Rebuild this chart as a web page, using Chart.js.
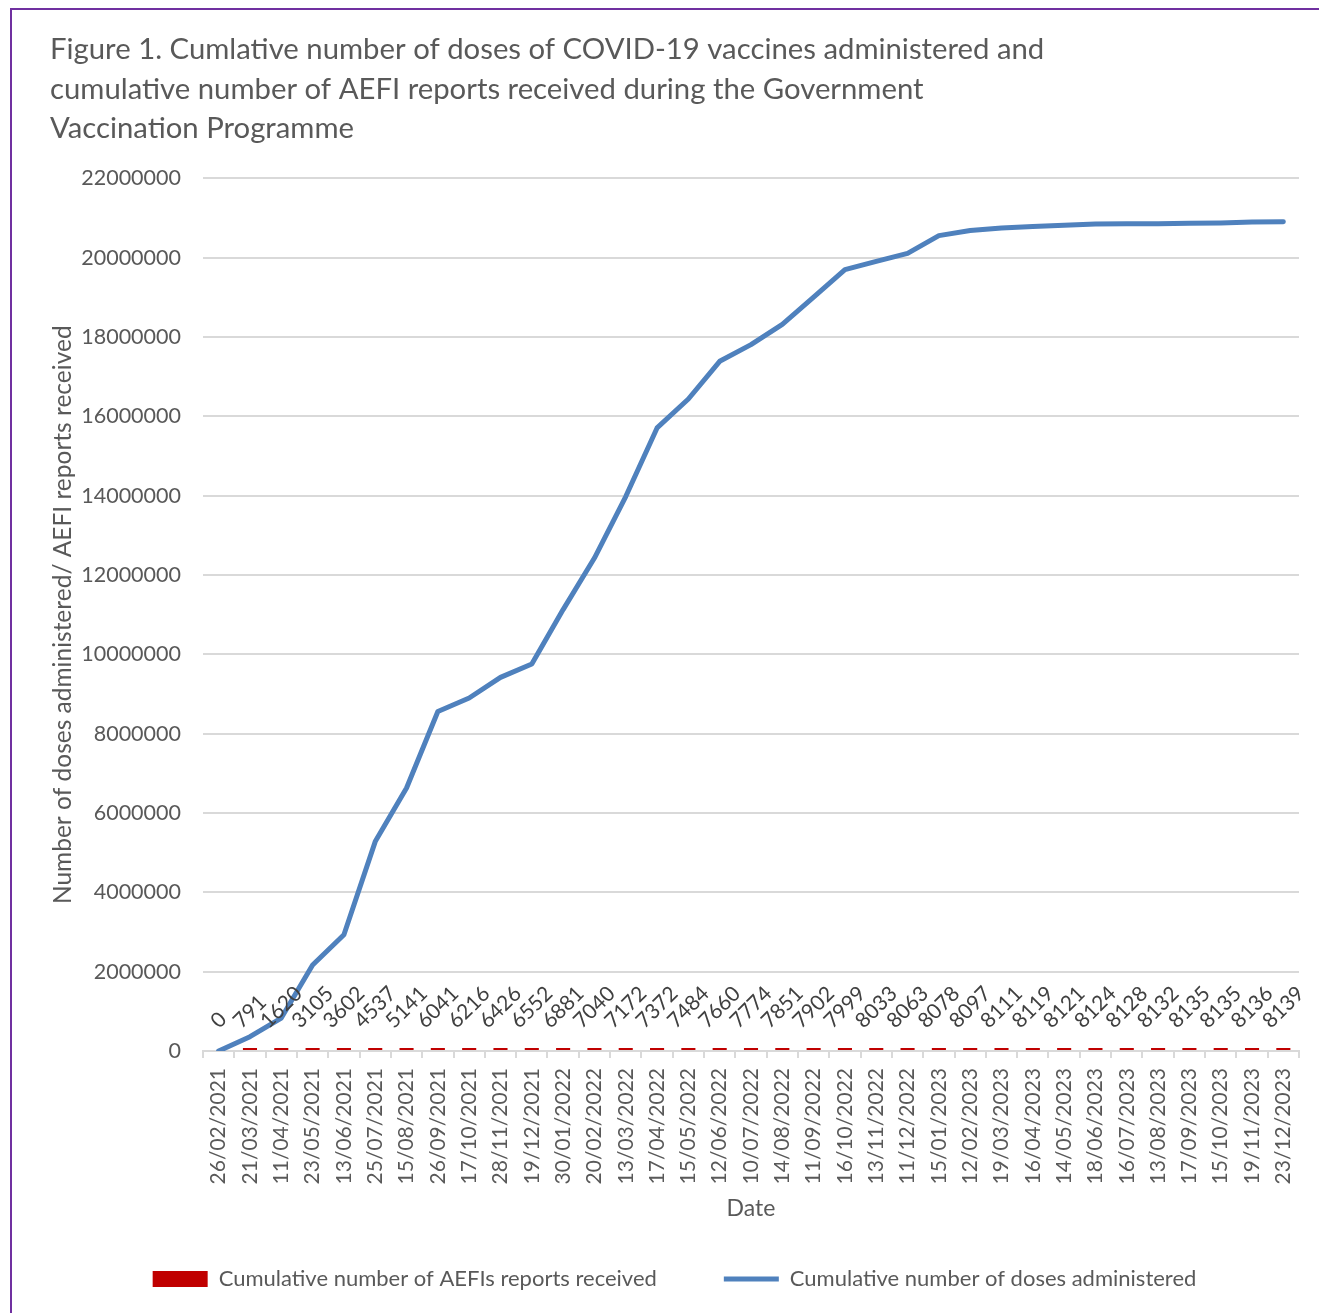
<!DOCTYPE html>
<html lang="en">
<head>
<meta charset="UTF-8">
<title>COVID-19 vaccine doses and AEFI reports</title>
<script src="https://cdn.jsdelivr.net/npm/chart.js"></script>
<style>
    body { margin: 0; background: #fff; }
    #grafico { position: absolute; left: 0; top: 0; }
    .moldura {
        position: absolute; left: 10px; top: 8px; right: 0; bottom: 0;
        border-left: 2px solid #7030a0; border-top: 2px solid #7030a0;
        pointer-events: none;
    }
</style>
</head>
<body>
<canvas id="grafico" width="1319" height="1313" style="width:1319px;height:1313px"></canvas>
<div class="moldura"></div>

<script>
    // dates of each report
    var dates = ['26/02/2021', '21/03/2021', '11/04/2021', '23/05/2021', '13/06/2021', '25/07/2021', '15/08/2021',
        '26/09/2021', '17/10/2021', '28/11/2021', '19/12/2021', '30/01/2022', '20/02/2022', '13/03/2022',
        '17/04/2022', '15/05/2022', '12/06/2022', '10/07/2022', '14/08/2022', '11/09/2022', '16/10/2022',
        '13/11/2022', '11/12/2022', '15/01/2023', '12/02/2023', '19/03/2023', '16/04/2023', '14/05/2023',
        '18/06/2023', '16/07/2023', '13/08/2023', '17/09/2023', '15/10/2023', '19/11/2023', '23/12/2023'];

    // cumulative AEFI reports
    var aefiReports = [0, 791, 1620, 3105, 3602, 4537, 5141, 6041, 6216, 6426, 6552, 6881, 7040, 7172,
        7372, 7484, 7660, 7774, 7851, 7902, 7999, 8033, 8063, 8078, 8097, 8111, 8119, 8121,
        8124, 8128, 8132, 8135, 8135, 8136, 8139];

    // cumulative doses administered
    var dosesGiven = [0, 360000, 830000, 2170000, 2930000, 5280000, 6630000, 8560000, 8900000, 9420000,
        9760000, 11130000, 12430000, 13980000, 15710000, 16440000, 17390000, 17810000, 18320000, 19010000,
        19700000, 19910000, 20110000, 20560000, 20690000, 20750000, 20790000, 20820000, 20850000, 20860000,
        20860000, 20870000, 20880000, 20900000, 20910000];

    var yMin = 0;
    var yMax = 22000000;
    var yStep = 2000000;

    var fonte = 'Lato, "Open Sans", sans-serif';
    var cinza = '#595959';

    // number labels over the AEFI bars, tilted 45 degrees
    var rotulosAefi = {
        id: 'rotulosAefi',
        afterDatasetsDraw: function (chart) {
            var ctx = chart.ctx;
            var x = chart.scales.x;
            var base = chart.scales.y.getPixelForValue(0);
            ctx.save();
            ctx.font = '21px ' + fonte;
            ctx.fillStyle = '#404040';
            ctx.textAlign = 'center';
            ctx.textBaseline = 'middle';
            for (var i = 0; i < aefiReports.length; i++) {
                var texto = String(aefiReports[i]);
                var w = ctx.measureText(texto).width;
                var meio = (w + 21) * Math.SQRT1_2 / 2;
                ctx.save();
                ctx.translate(x.getPixelForValue(i), base - 19 - meio);
                ctx.rotate(-Math.PI / 4);
                ctx.fillText(texto, 0, 0);
                ctx.restore();
            }
            ctx.restore();
        }
    };

    new Chart(document.getElementById('grafico'), {
        data: {
            labels: dates,
            datasets: [{
                type: 'bar',
                label: 'Cumulative number of AEFIs reports received',
                data: aefiReports.map(function (v) { return v === 0 ? null : v; }),
                backgroundColor: '#c00000',
                borderWidth: 0,
                minBarLength: 3,
                barPercentage: 0.45,
                categoryPercentage: 1,
                pointStyle: 'rect',
                order: 1
            }, {
                type: 'line',
                label: 'Cumulative number of doses administered',
                data: dosesGiven,
                borderColor: '#4f81bd',
                backgroundColor: '#4f81bd',
                borderWidth: 5,
                pointRadius: 0,
                tension: 0,
                borderCapStyle: 'round',
                borderJoinStyle: 'round',
                pointStyle: 'line',
                order: 0
            }]
        },
        options: {
            responsive: false,
            animation: false,
            layout: { padding: { left: 50, right: 20, top: 0, bottom: 13 } },
            plugins: {
                tooltip: { enabled: false },
                title: {
                    display: true,
                    align: 'start',
                    text: ['Figure 1. Cumlative number of doses of COVID-19 vaccines administered and',
                        'cumulative number of AEFI reports received during the Government',
                        'Vaccination Programme'],
                    color: cinza,
                    font: { family: fonte, size: 29.3, weight: 'normal', lineHeight: 1.348 },
                    padding: { top: 30, bottom: 30 }
                },
                legend: {
                    position: 'bottom',
                    labels: {
                        usePointStyle: true,
                        pointStyleWidth: 55,
                        boxHeight: 16,
                        padding: 67,
                        color: cinza,
                        font: { family: fonte, size: 22 },
                        sort: function (a, b) { return a.datasetIndex - b.datasetIndex; }
                    }
                }
            },
            scales: {
                x: {
                    offset: true,
                    afterFit: function (scale) { scale.height = 150; },
                    grid: { offset: true, drawOnChartArea: false, tickLength: 7, color: '#d9d9d9', lineWidth: 2 },
                    border: { color: '#d9d9d9', width: 2 },
                    ticks: {
                        autoSkip: false, maxRotation: 90, minRotation: 90, padding: 10,
                        color: cinza, font: { family: fonte, size: 21 }
                    },
                    title: {
                        display: true, text: 'Date', color: cinza,
                        font: { family: fonte, size: 23 },
                        padding: { top: 0, bottom: -21 }
                    }
                },
                y: {
                    min: yMin,
                    max: yMax,
                    afterFit: function (scale) { scale.width = 153; },
                    grid: { color: '#d9d9d9', lineWidth: 2, drawTicks: false },
                    border: { display: false },
                    ticks: {
                        stepSize: yStep, padding: 22, color: cinza,
                        font: { family: fonte, size: 21.5 },
                        callback: function (v) { return String(v); }
                    },
                    title: {
                        display: true, text: 'Number of doses administered/ AEFI reports received',
                        color: cinza, font: { family: fonte, size: 24.5 },
                        padding: { top: -2, bottom: 4 }
                    }
                }
            }
        },
        plugins: [rotulosAefi]
    });
</script>
</body>
</html>
